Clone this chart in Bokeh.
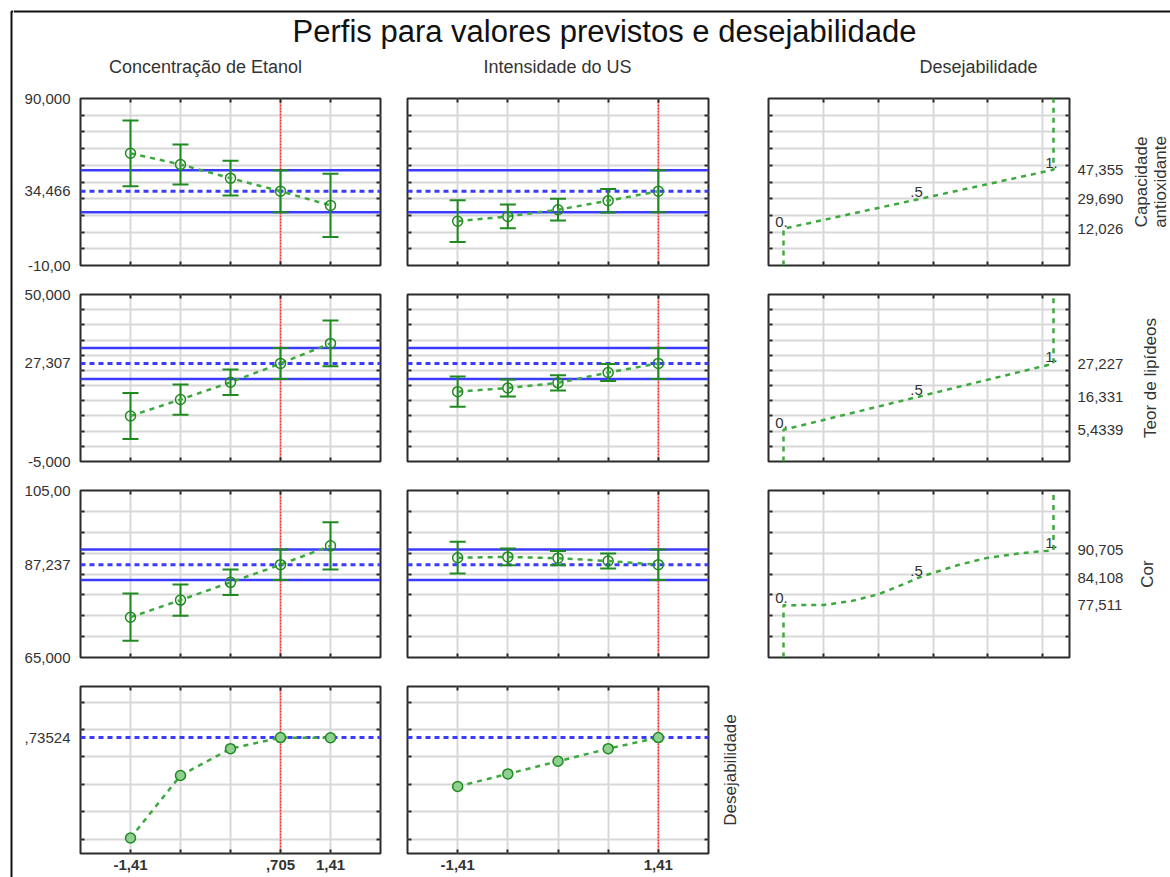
from bokeh.core.properties import value
from bokeh.embed import file_html
from bokeh.layouts import column, row
from bokeh.models import (ColumnDataSource, FixedTicker, Grid, LinearAxis, Range1d,
                          Spacer, Span, TeeHead, Whisker)
from bokeh.plotting import figure
from bokeh.resources import INLINE

# ------------------------------------------------------------------ data
chart_title = "Perfis para valores previstos e desejabilidade"
column_titles = ["Concentração de Etanol", "Intensidade do US", "Desejabilidade"]
response_names = ["Capacidade\nantioxidante", "Teor de lipídeos", "Cor"]
desirability_name = "Desejabilidade"

# coded factor levels and the current (optimal) setting of each factor
levels = [-1.41, -0.705, 0.0, 0.705, 1.41]
current_setting = [0.705, 1.41]
bottom_ticks = [[-1.41, 0.705, 1.41], [-1.41, 1.41]]
bottom_labels = [["-1,41", ",705", "1,41"], ["-1,41", "1,41"]]

# predicted response along each factor, with confidence half-widths
cap_etanol = [57.2, 50.5, 42.3, 34.466, 26.0]
cap_etanol_ci = [19.7, 12.0, 10.4, 12.6, 19.0]
cap_us = [16.5, 19.4, 23.4, 28.8, 34.466]
cap_us_ci = [12.5, 7.1, 6.5, 7.0, 12.6]

lip_etanol = [10.0, 15.4, 21.1, 27.307, 33.9]
lip_etanol_ci = [7.6, 5.0, 4.2, 5.1, 7.5]
lip_us = [18.0, 19.2, 20.9, 24.3, 27.307]
lip_us_ci = [5.0, 2.8, 2.5, 2.8, 5.1]

cor_etanol = [74.65, 78.75, 83.0, 87.237, 91.75]
cor_etanol_ci = [5.65, 3.75, 3.05, 3.65, 5.65]
cor_us = [88.9, 89.1, 88.8, 88.1, 87.237]
cor_us_ci = [3.8, 2.0, 1.7, 1.8, 3.65]

# value predicted at the current setting and its confidence half-width
predicted = [34.466, 27.307, 87.237]
predicted_labels = ["34,466", "27,307", "87,237"]
predicted_ci = [12.6, 5.1, 3.65]

# response axis limits
limits = [(-10.0, 90.0), (-5.0, 50.0), (65.0, 105.0)]
limit_labels = [("-10,00", "90,000"), ("-5,000", "50,000"), ("65,000", "105,00")]

# overall desirability along each factor
desir_etanol = [0.552, 0.666, 0.715, 0.73524, 0.7350]
desir_us = [0.646, 0.669, 0.692, 0.715, 0.73524]
desir_current = 0.73524
desir_current_label = ",73524"
desir_limits = (0.5237, 0.8285)

# desirability functions: response value at d = 0, .5 and 1
desir_keys = [0.0, 0.5, 1.0]
desir_key_labels = ["0.", ".5", "1."]
spec_cap = [12.026, 29.69, 47.355]
spec_lip = [5.4339, 16.331, 27.227]
spec_cor = [77.511, 84.108, 90.705]
spec_cap_labels = ["12,026", "29,690", "47,355"]
spec_lip_labels = ["5,4339", "16,331", "27,227"]
spec_cor_labels = ["77,511", "84,108", "90,705"]

curve_cap_d = [0.0, 0.25, 0.5, 0.75, 1.0]
curve_cap_v = [12.026, 20.9, 29.69, 38.5, 47.355]
curve_lip_d = [0.0, 0.25, 0.5, 0.75, 1.0]
curve_lip_v = [5.4339, 10.9, 16.331, 21.8, 27.227]
curve_cor_d = [0.0, 0.15, 0.25, 0.35, 0.45, 0.5, 0.55, 0.65, 0.75, 0.87, 1.0]
curve_cor_v = [77.511, 77.6, 78.5, 80.1, 82.7, 84.108, 85.2, 87.2, 88.8, 89.9, 90.705]

# ------------------------------------------------------------------ style
FONT = "Liberation Sans"
INK = "#333333"
FRAME = "#2b2b2b"
GRID = "#d8d8d8"
GREEN_LINE = "#3da83d"
GREEN_BAR = "#1f8a1f"
BLUE = "#3b3bff"
RED = "#ff2a2a"

# cell widths / (left, right) borders: etanol, US, desirability, side title
COL_W = [380, 347, 390, 40]
COL_BORDER = [(67, 13), (14, 32), (28, 61), (0, 0)]
ROW_H = [200, 196, 196, 205]
ROW_BORDER = [(18, 15), (14, 15), (14, 15), (14, 24)]
SIDE_TITLE_X = [20, 20, 17]   # horizontal anchor inside the side-title cell

profile_x = (-2.115, 2.115)
desir_x = (-0.0556, 1.0593)
profile_xgrid = levels
desir_xgrid = [0.148, 0.352, 0.556, 0.756, 0.959]
ygrids = [
    [0, 10, 20, 30, 40, 50, 60, 70, 80],
    [0, 5, 10, 15, 20, 25, 30, 35, 40, 45],
    [70, 75, 80, 85, 90, 95, 100],
    [0.55, 0.60, 0.65, 0.70, 0.75, 0.80],
]


def js_key(v):
    return str(int(v)) if float(v).is_integer() else repr(float(v))


def add_axis(p, side, minor, major=(), labels=(), bold=False, standoff=0):
    ax = LinearAxis(ticker=FixedTicker(ticks=list(major), minor_ticks=list(minor)))
    ax.axis_line_color = None
    ax.major_tick_in = 0
    ax.major_tick_out = 0
    ax.major_tick_line_color = None
    ax.minor_tick_in = 4
    ax.minor_tick_out = 0
    ax.minor_tick_line_color = FRAME
    ax.minor_tick_line_width = 2
    ax.major_label_standoff = standoff
    ax.major_label_text_font = FONT
    ax.major_label_text_font_size = "15px"
    ax.major_label_text_color = INK
    if bold:
        ax.major_label_text_font_style = "bold"
    if labels:
        overrides = {}
        for m, lab in zip(major, labels):
            overrides[float(m)] = lab
            overrides[js_key(m)] = lab
        ax.major_label_overrides = overrides
    p.add_layout(ax, side)
    return ax


def make_panel(ci, ri, xr, yr, xgrid, ygrid, width=None, right=None):
    left, r = COL_BORDER[ci]
    top, bottom = ROW_BORDER[ri]
    p = figure(width=width or COL_W[ci], height=ROW_H[ri],
               x_range=Range1d(*xr), y_range=Range1d(*yr),
               x_axis_type=None, y_axis_type=None,
               toolbar_location=None, output_backend="svg",
               min_border_left=left, min_border_right=r if right is None else right,
               min_border_top=top, min_border_bottom=bottom,
               background_fill_color="white", border_fill_color="white",
               outline_line_color=FRAME, outline_line_width=2)
    p.add_layout(Grid(dimension=0, ticker=FixedTicker(ticks=list(xgrid)),
                      grid_line_color=GRID, grid_line_width=2))
    p.add_layout(Grid(dimension=1, ticker=FixedTicker(ticks=list(ygrid)),
                      grid_line_color=GRID, grid_line_width=2))
    return p


def side_title(ri, text, x_anchor, width):
    """Vertical response name, reading bottom to top, beside a row."""
    top, bottom = ROW_BORDER[ri]
    p = figure(width=width, height=ROW_H[ri], x_range=Range1d(0, width),
               y_range=Range1d(0, 1), x_axis_type=None, y_axis_type=None,
               toolbar_location=None, output_backend="svg",
               min_border_left=0, min_border_right=0,
               min_border_top=top, min_border_bottom=bottom,
               background_fill_color="white", border_fill_color="white",
               outline_line_color=None)
    p.text(x=[x_anchor], y=[0.5], text=[text], angle=1.5707963267948966,
           text_font=value(FONT), text_font_size="17px", text_color=INK,
           text_align="center", text_baseline="middle", text_line_height=1.0)
    return p


def profile_panel(ci, ri, values, ci_half, center, center_ci, current_x, yr,
                  width=None, right=None):
    p = make_panel(ci, ri, profile_x, yr, profile_xgrid, ygrids[ri], width, right)
    if center_ci is not None:
        for loc in (center + center_ci, center - center_ci):
            p.add_layout(Span(location=loc, dimension="width", line_color=BLUE,
                              line_width=2.5, level="underlay"))
    p.add_layout(Span(location=center, dimension="width", line_color=BLUE,
                      line_width=3, line_dash="5 4", level="underlay"))
    p.add_layout(Span(location=current_x, dimension="height", line_color=RED,
                      line_width=1.5, line_dash="2 1", level="underlay"))
    if ci_half is not None:
        src = ColumnDataSource(dict(
            x=levels,
            upper=[v + e for v, e in zip(values, ci_half)],
            lower=[v - e for v, e in zip(values, ci_half)],
        ))
        p.add_layout(Whisker(source=src, base="x", upper="upper", lower="lower",
                             line_color=GREEN_BAR, line_width=2, level="underlay",
                             upper_head=TeeHead(size=16, line_color=GREEN_BAR, line_width=2),
                             lower_head=TeeHead(size=16, line_color=GREEN_BAR, line_width=2)))
    p.line(levels, values, line_color=GREEN_LINE, line_width=2.5, line_dash="5 5")
    if ci_half is not None:
        p.scatter(levels, values, marker="circle", size=10, line_color=GREEN_BAR,
                  line_width=1.5, fill_color=None)
    else:
        p.scatter(levels, values, marker="circle", size=10, line_color=GREEN_BAR,
                  line_width=1.5, fill_color="#8fcf8f")
    return p


def desirability_panel(ri, spec, curve_d, curve_v, yr):
    p = make_panel(2, ri, desir_x, yr, desir_xgrid, ygrids[ri])
    xs = [desir_keys[0]] + curve_d + [desir_keys[-1]]
    ys = [yr[0]] + curve_v + [yr[1]]
    p.line(xs, ys, line_color=GREEN_LINE, line_width=2.5, line_dash="5 5")
    src = ColumnDataSource(dict(x=desir_keys, y=spec, t=desir_key_labels))
    p.text(x="x", y="y", text="t", source=src, text_font=value(FONT),
           text_font_size="15px", text_color=INK, text_align="center",
           text_baseline="bottom", x_offset=-2, y_offset=-2)
    return p


profiles = [
    [(cap_etanol, cap_etanol_ci), (cap_us, cap_us_ci)],
    [(lip_etanol, lip_etanol_ci), (lip_us, lip_us_ci)],
    [(cor_etanol, cor_etanol_ci), (cor_us, cor_us_ci)],
]
specs = [spec_cap, spec_lip, spec_cor]
spec_labels = [spec_cap_labels, spec_lip_labels, spec_cor_labels]
curves = [(curve_cap_d, curve_cap_v), (curve_lip_d, curve_lip_v), (curve_cor_d, curve_cor_v)]

rows = []
for ri in range(3):
    yr = limits[ri]
    cells = []
    for ci in range(2):
        vals, errs = profiles[ri][ci]
        p = profile_panel(ci, ri, vals, errs, predicted[ri], predicted_ci[ri],
                          current_setting[ci], yr)
        if ci == 0:
            add_axis(p, "left", ygrids[ri],
                     major=[yr[0], predicted[ri], yr[1]],
                     labels=[limit_labels[ri][0], predicted_labels[ri], limit_labels[ri][1]],
                     standoff=10)
        else:
            add_axis(p, "left", ygrids[ri])
        add_axis(p, "right", ygrids[ri])
        add_axis(p, "above", profile_xgrid)
        add_axis(p, "below", profile_xgrid)
        cells.append(p)
    d = desirability_panel(ri, specs[ri], curves[ri][0], curves[ri][1], yr)
    add_axis(d, "left", ygrids[ri])
    add_axis(d, "right", ygrids[ri], major=specs[ri], labels=spec_labels[ri], standoff=8)
    add_axis(d, "above", desir_xgrid)
    add_axis(d, "below", desir_xgrid)
    cells.append(d)
    cells.append(side_title(ri, response_names[ri], SIDE_TITLE_X[ri], COL_W[3]))
    rows.append(row(*cells))

# overall desirability row
last = []
for ci, series in enumerate([desir_etanol, desir_us]):
    if ci == 0:
        p = profile_panel(ci, 3, series, None, desir_current, None,
                          current_setting[ci], desir_limits)
        add_axis(p, "left", ygrids[3], major=[desir_current],
                 labels=[desir_current_label], standoff=10)
    else:
        p = profile_panel(ci, 3, series, None, desir_current, None,
                          current_setting[ci], desir_limits, width=317, right=2)
        add_axis(p, "left", ygrids[3])
    add_axis(p, "right", ygrids[3])
    add_axis(p, "above", profile_xgrid)
    add_axis(p, "below", profile_xgrid, major=bottom_ticks[ci],
             labels=bottom_labels[ci], bold=True, standoff=6)
    last.append(p)
last.append(side_title(3, desirability_name, 20, 30))
last.append(Spacer(width=COL_W[2] + COL_W[3], height=ROW_H[3]))
rows.append(row(*last))

# ------------------------------------------------------------------ titles and frame
header = figure(width=1157, height=80, x_range=Range1d(13, 1170), y_range=Range1d(80, 0),
                x_axis_type=None, y_axis_type=None, toolbar_location=None,
                output_backend="svg", min_border=0, outline_line_color=None)
header.line(x=[13, 1170], y=[11, 11], line_color="#111111", line_width=2)
header.text(x=[604], y=[31], text=[chart_title], text_font=value(FONT),
            text_font_size="31px", text_color="#111111", text_align="center",
            text_baseline="middle")
header.text(x=[205, 557, 978], y=[66, 66, 66], text=column_titles, text_font=value(FONT),
            text_font_size="18px", text_color=INK, text_align="center",
            text_baseline="middle")

edge = figure(width=13, height=877, x_range=Range1d(0, 13), y_range=Range1d(877, 0),
              x_axis_type=None, y_axis_type=None, toolbar_location=None,
              output_backend="svg", min_border=0, outline_line_color=None)
edge.line(x=[11, 11, 13], y=[877, 11, 11], line_color="#111111", line_width=2)

layout = row(edge, column(header, *rows))

open("out.html", "w").write(file_html(layout, INLINE))
